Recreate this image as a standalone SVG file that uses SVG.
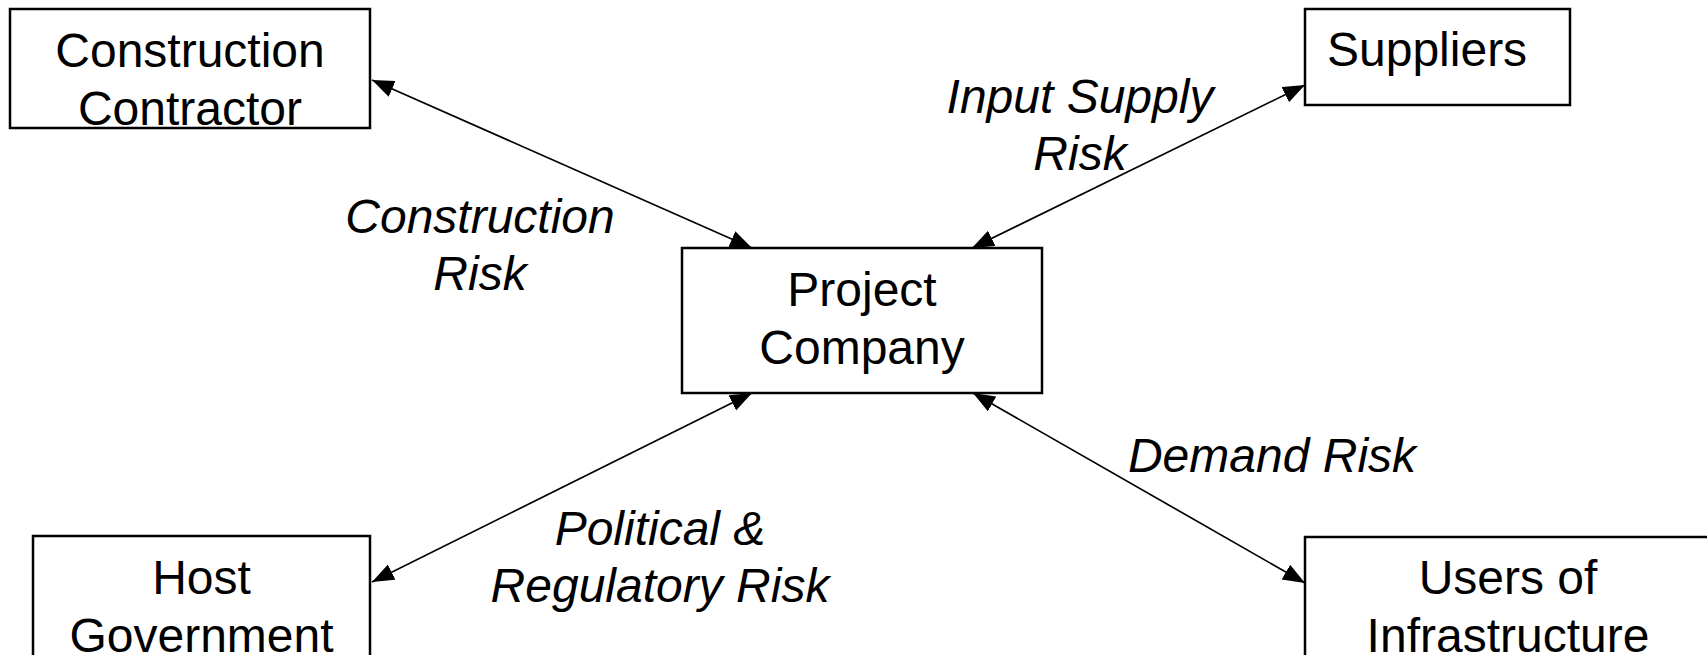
<svg xmlns="http://www.w3.org/2000/svg" width="1707" height="655" viewBox="0 0 1707 655">
<style>
.box{fill:#fff;stroke:#000;stroke-width:2.5}
.t{font-family:"Liberation Sans",Arial,Helvetica,sans-serif;font-size:48px;fill:#000;text-anchor:middle}
.lbl{font-style:italic}
.conn line{stroke:#000;stroke-width:1.7;marker-start:url(#ah);marker-end:url(#ah)}
</style>
<defs>
<marker id="ah" markerUnits="userSpaceOnUse" markerWidth="24" markerHeight="18" refX="22" refY="8.5" orient="auto-start-reverse" viewBox="0 0 24 18">
<path d="M0,0 L22,8.5 L0,17 z" fill="#000"/>
</marker>
</defs>
<rect width="1707" height="655" fill="#fff"/>
<g id="connectors" class="conn">
<line x1="752" y1="248" x2="372" y2="80"/>
<line x1="972" y1="248" x2="1305" y2="85"/>
<line x1="752" y1="393" x2="372" y2="582"/>
<line x1="973" y1="393" x2="1305" y2="583"/>
</g>
<g id="labels" class="t lbl">
<text x="480" y="233">Construction</text>
<text x="480" y="290">Risk</text>
<text x="1080" y="113">Input Supply</text>
<text x="1080" y="170">Risk</text>
<text x="660" y="545">Political &amp;</text>
<text x="660" y="602">Regulatory Risk</text>
<text x="1272" y="472">Demand Risk</text>
</g>
<g id="construction-contractor">
<rect class="box" x="10" y="9" width="360" height="119"/>
<text class="t" x="190" y="67">Construction</text>
<text class="t" x="190" y="125">Contractor</text>
</g>
<g id="suppliers">
<rect class="box" x="1305" y="9" width="265" height="96"/>
<text class="t" x="1327" y="66" style="text-anchor:start">Suppliers</text>
</g>
<g id="project-company">
<rect class="box" x="682" y="248" width="360" height="145"/>
<text class="t" x="862" y="306">Project</text>
<text class="t" x="862" y="364">Company</text>
</g>
<g id="host-government">
<rect class="box" x="33" y="536" width="337" height="140"/>
<text class="t" x="201.5" y="594">Host</text>
<text class="t" x="201.5" y="652">Government</text>
</g>
<g id="users-of-infrastructure">
<rect class="box" x="1305" y="537" width="406" height="140"/>
<text class="t" x="1508" y="594">Users of</text>
<text class="t" x="1508" y="652">Infrastructure</text>
</g>
</svg>
